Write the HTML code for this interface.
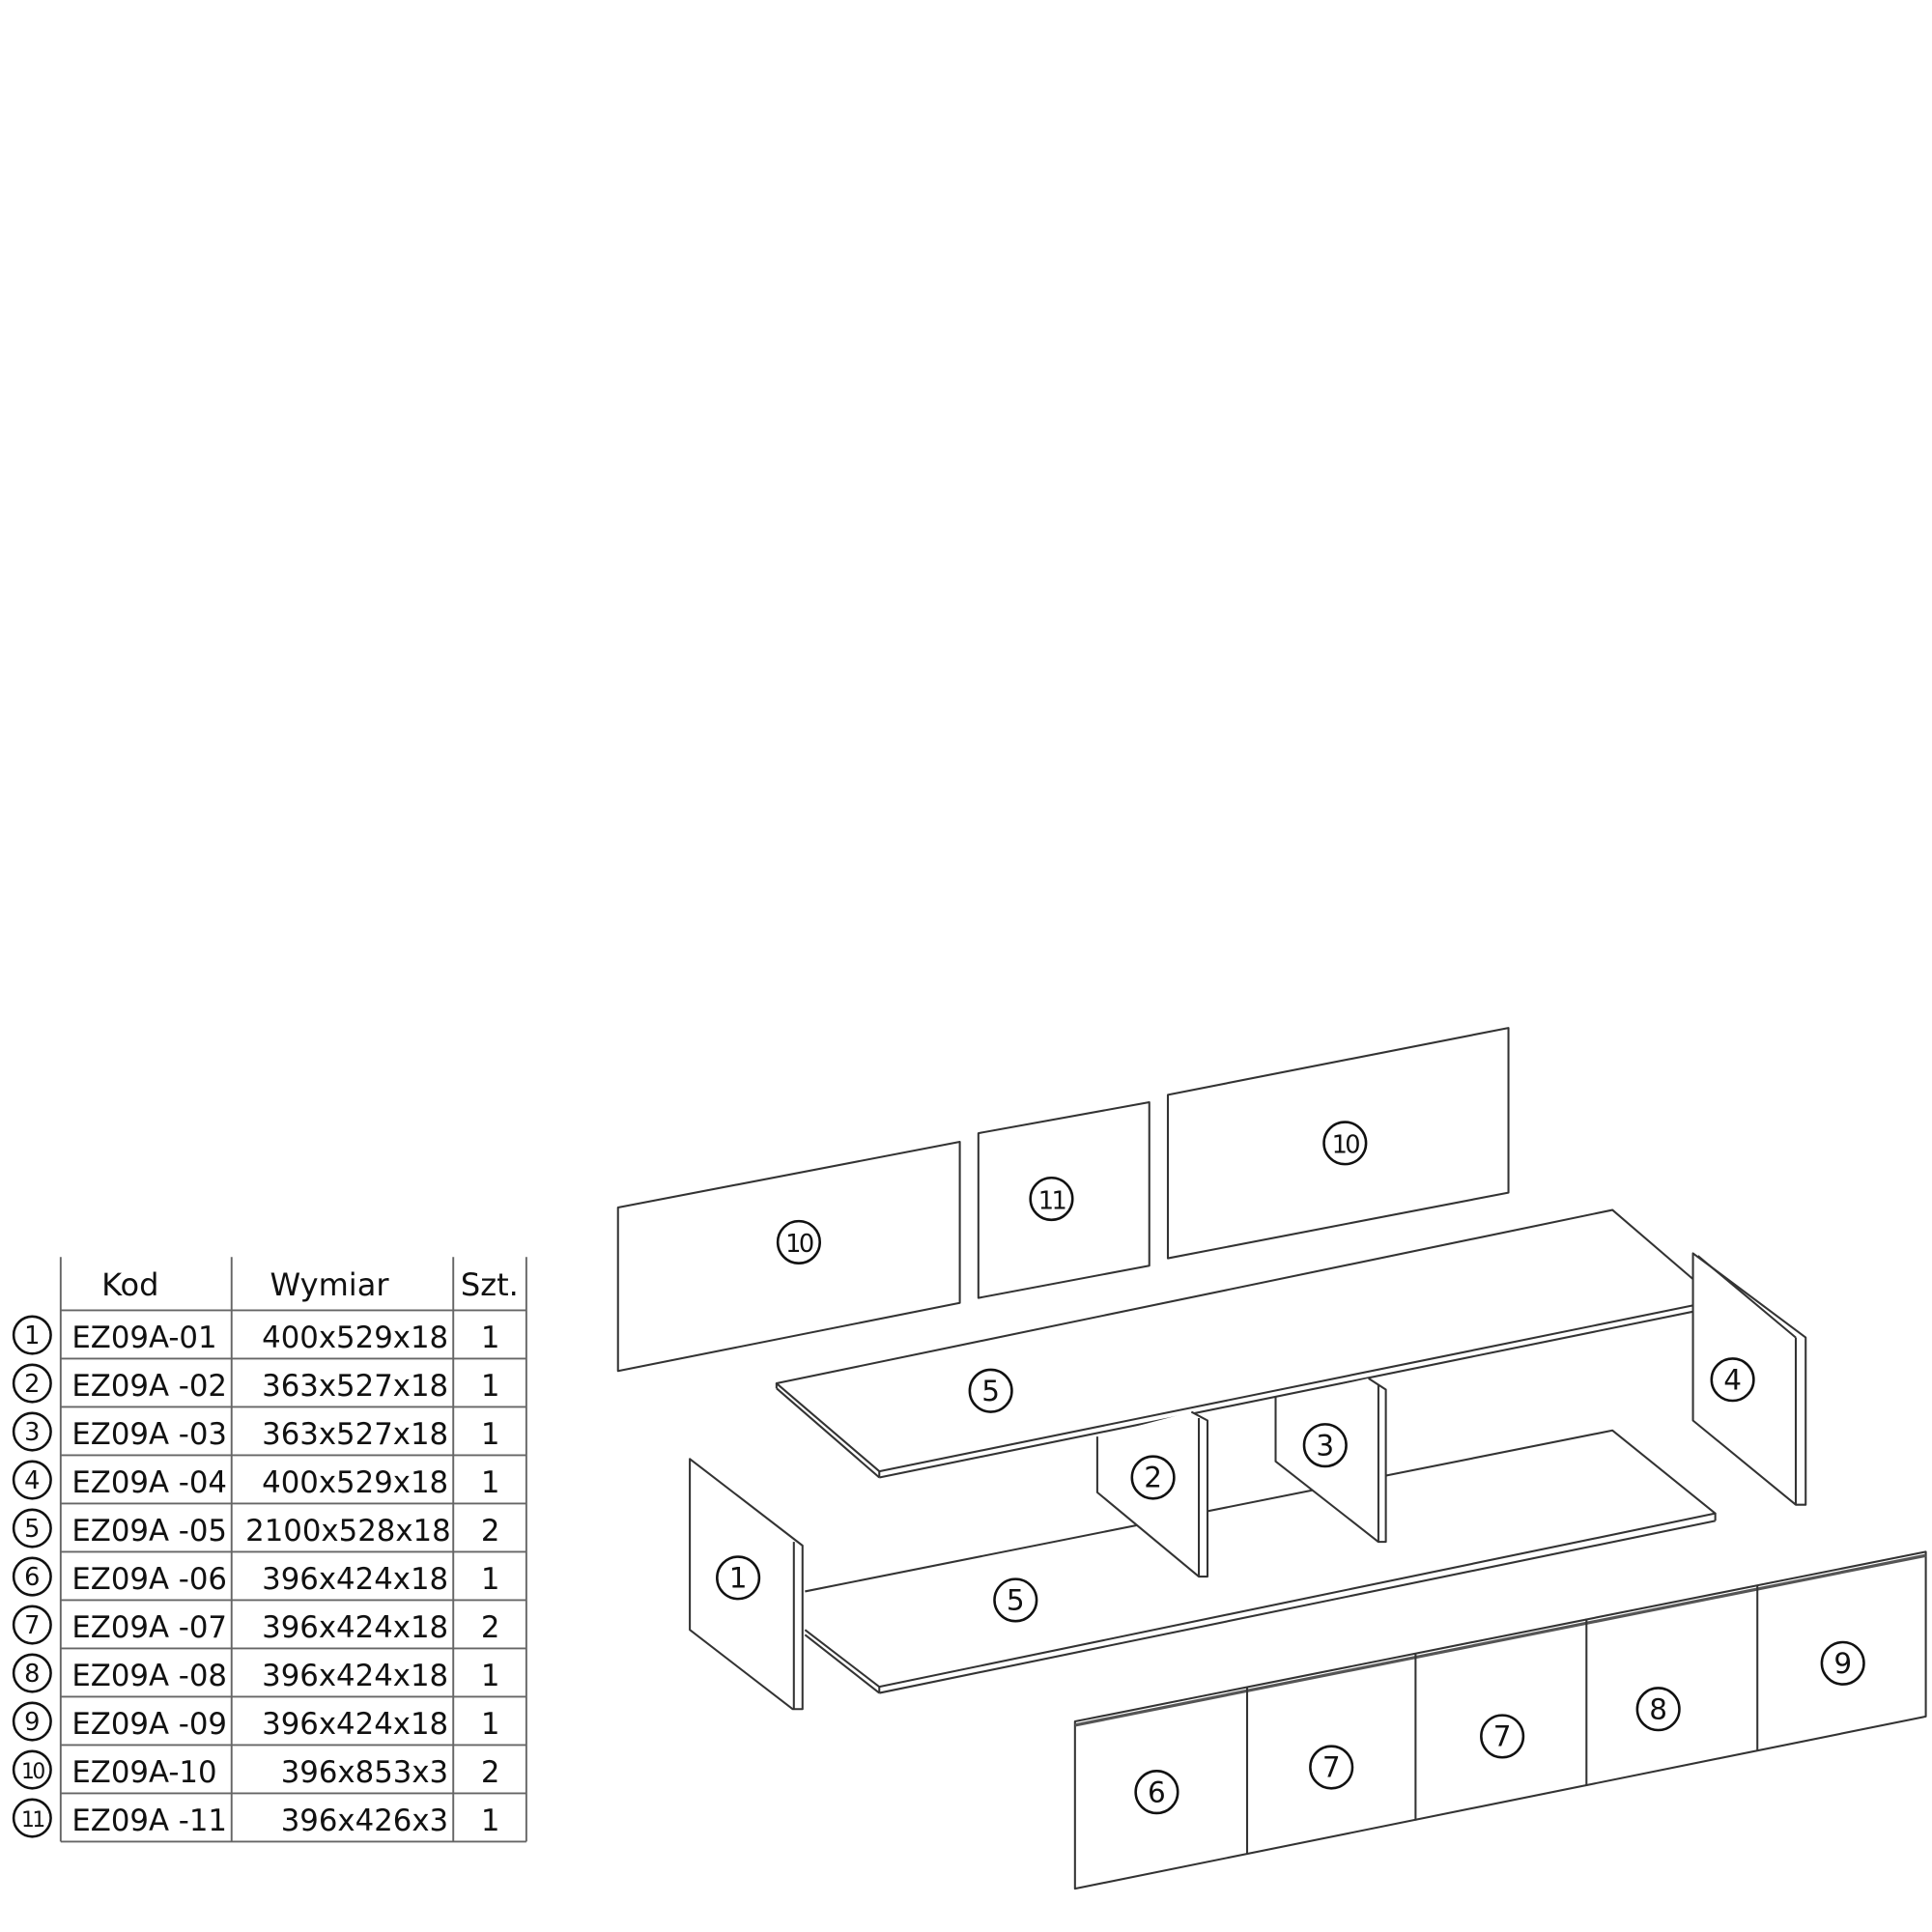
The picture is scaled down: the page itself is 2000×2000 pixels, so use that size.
<!DOCTYPE html>
<html><head><meta charset="utf-8"><style>
html,body{margin:0;padding:0;background:#fff;}
svg{display:block}
text{font-family:"DejaVu Sans","Liberation Sans",sans-serif;fill:#111}
</style></head><body>
<svg width="2000" height="2000" viewBox="0 0 1560 1560" xmlns="http://www.w3.org/2000/svg">
<g fill="none" stroke="#333" stroke-width="1.6" stroke-linejoin="round">
<!-- table -->
<g stroke="#666" stroke-width="1.5">
<line x1="49" y1="1015" x2="49" y2="1487"/><line x1="187" y1="1015" x2="187" y2="1487"/>
<line x1="366" y1="1015" x2="366" y2="1487"/><line x1="425" y1="1015" x2="425" y2="1487"/>
<line x1="49" y1="1058" x2="425" y2="1058"/><line x1="49" y1="1097" x2="425" y2="1097"/>
<line x1="49" y1="1136" x2="425" y2="1136"/><line x1="49" y1="1175" x2="425" y2="1175"/>
<line x1="49" y1="1214" x2="425" y2="1214"/><line x1="49" y1="1253" x2="425" y2="1253"/>
<line x1="49" y1="1292" x2="425" y2="1292"/><line x1="49" y1="1331" x2="425" y2="1331"/>
<line x1="49" y1="1370" x2="425" y2="1370"/><line x1="49" y1="1409" x2="425" y2="1409"/>
<line x1="49" y1="1448" x2="425" y2="1448"/><line x1="49" y1="1487" x2="425" y2="1487"/>
</g>
<!-- back panels -->
<polygon points="499,975 775,922 775,1052 499,1107"/>
<polygon points="790,915 928,890 928,1022 790,1048"/>
<polygon points="943,884 1218,830 1218,963 943,1016"/>
<!-- top shelf -->
<polygon points="627,1117 1302,977 1387,1050 710,1188" fill="#fff"/>
<line x1="710" y1="1193" x2="1387" y2="1055"/><line x1="627" y1="1117" x2="627" y2="1121"/>
<line x1="627" y1="1121" x2="710" y2="1193"/><line x1="710" y1="1188" x2="710" y2="1193"/><line x1="1387" y1="1050" x2="1387" y2="1055"/>
<!-- panel 4 -->
<polygon points="1367,1012 1458,1080 1458,1215 1450,1215 1367,1147 1367,1062" fill="#fff"/>
<line x1="1450" y1="1080" x2="1450" y2="1215"/><line x1="1371" y1="1014" x2="1450" y2="1080"/>
<!-- bottom shelf -->
<polyline points="650,1285 1302,1155 1385,1222 710,1362 650,1316"/>
<line x1="710" y1="1367" x2="1385" y2="1228"/><line x1="1385" y1="1222" x2="1385" y2="1228"/>
<line x1="710" y1="1362" x2="710" y2="1367"/><line x1="650" y1="1320" x2="710" y2="1367"/>
<!-- panel 2 -->
<polygon points="886,1160 886,1205 968,1273 975,1273 975,1147 962,1140 886,1160" fill="#fff" stroke="none"/>
<polyline points="886,1160 886,1205 968,1273 975,1273 975,1147 962,1140"/>
<line x1="968" y1="1145" x2="968" y2="1273"/>
<!-- panel 3 -->
<polygon points="1030,1130 1030,1180 1113,1245 1119,1245 1119,1122 1105,1113" fill="#fff" stroke="none"/>
<polyline points="1030,1128 1030,1180 1113,1245 1119,1245 1119,1122 1105,1113"/>
<line x1="1113" y1="1118" x2="1113" y2="1245"/>
<!-- panel 1 -->
<polygon points="557,1178 648,1248 648,1380 640,1380 557,1316" fill="#fff"/>
<line x1="641" y1="1245" x2="641" y2="1380"/>
<!-- doors -->
<polygon points="868,1390 1555,1253 1555,1386 868,1525"/>
<line x1="868" y1="1393" x2="1555" y2="1256" stroke-width="2.5" stroke="#555"/>
<line x1="1007" y1="1362" x2="1007" y2="1497"/><line x1="1143" y1="1335" x2="1143" y2="1470"/>
<line x1="1281" y1="1307" x2="1281" y2="1442"/><line x1="1419" y1="1280" x2="1419" y2="1414"/>
</g>
<!-- table text -->
<g font-size="25">
<text x="82" y="1046">Kod</text><text x="218" y="1046">Wymiar</text><text x="372" y="1046">Szt.</text>
</g>
<g font-size="24">
<text x="58" y="1088">EZ09A-01</text><text x="58" y="1127">EZ09A -02</text><text x="58" y="1166">EZ09A -03</text>
<text x="58" y="1205">EZ09A -04</text><text x="58" y="1244">EZ09A -05</text><text x="58" y="1283">EZ09A -06</text>
<text x="58" y="1322">EZ09A -07</text><text x="58" y="1361">EZ09A -08</text><text x="58" y="1400">EZ09A -09</text>
<text x="58" y="1439">EZ09A-10</text><text x="58" y="1478">EZ09A -11</text>
</g>
<g font-size="24" text-anchor="end">
<text x="362" y="1088">400x529x18</text><text x="362" y="1127">363x527x18</text><text x="362" y="1166">363x527x18</text>
<text x="362" y="1205">400x529x18</text><text x="364" y="1244">2100x528x18</text><text x="362" y="1283">396x424x18</text>
<text x="362" y="1322">396x424x18</text><text x="362" y="1361">396x424x18</text><text x="362" y="1400">396x424x18</text>
<text x="362" y="1439">396x853x3</text><text x="362" y="1478">396x426x3</text>
</g>
<g font-size="24" text-anchor="middle">
<text x="396" y="1088">1</text><text x="396" y="1127">1</text><text x="396" y="1166">1</text><text x="396" y="1205">1</text>
<text x="396" y="1244">2</text><text x="396" y="1283">1</text><text x="396" y="1322">2</text><text x="396" y="1361">1</text>
<text x="396" y="1400">1</text><text x="396" y="1439">2</text><text x="396" y="1478">1</text>
</g>
<!-- circled numbers -->
<g fill="none" stroke="#111" stroke-width="2">
<circle cx="26" cy="1078" r="15"/><circle cx="26" cy="1117" r="15"/><circle cx="26" cy="1156" r="15"/>
<circle cx="26" cy="1195" r="15"/><circle cx="26" cy="1234" r="15"/><circle cx="26" cy="1273" r="15"/>
<circle cx="26" cy="1312" r="15"/><circle cx="26" cy="1351" r="15"/><circle cx="26" cy="1390" r="15"/>
<circle cx="26" cy="1429" r="15"/><circle cx="26" cy="1468" r="15"/>
<circle cx="645" cy="1003" r="17"/><circle cx="849" cy="968" r="17"/><circle cx="1086" cy="923" r="17"/>
<circle cx="800" cy="1123" r="17"/><circle cx="1399" cy="1114" r="17"/><circle cx="931" cy="1193" r="17"/>
<circle cx="1070" cy="1167" r="17"/><circle cx="820" cy="1292" r="17"/><circle cx="596" cy="1274" r="17"/>
<circle cx="934" cy="1447" r="17"/><circle cx="1075" cy="1427" r="17"/><circle cx="1213" cy="1402" r="17"/>
<circle cx="1339" cy="1380" r="17"/><circle cx="1488" cy="1343" r="17"/>
</g>
<g font-size="20" text-anchor="middle">
<text x="26" y="1085">1</text><text x="26" y="1124">2</text><text x="26" y="1163">3</text><text x="26" y="1202">4</text>
<text x="26" y="1241">5</text><text x="26" y="1280">6</text><text x="26" y="1319">7</text><text x="26" y="1358">8</text>
<text x="26" y="1397">9</text><text x="26" y="1436" font-size="17" letter-spacing="-2">10</text><text x="26" y="1475" font-size="17" letter-spacing="-2">11</text>
</g>
<g font-size="23" text-anchor="middle">
<text x="645" y="1011" font-size="20" letter-spacing="-2">10</text><text x="849" y="976" font-size="20" letter-spacing="-2">11</text>
<text x="1086" y="931" font-size="20" letter-spacing="-2">10</text>
<text x="800" y="1131">5</text><text x="1399" y="1122">4</text><text x="931" y="1201">2</text>
<text x="1070" y="1175">3</text><text x="820" y="1300">5</text><text x="596" y="1282">1</text>
<text x="934" y="1455">6</text><text x="1075" y="1435">7</text><text x="1213" y="1410">7</text>
<text x="1339" y="1388">8</text><text x="1488" y="1351">9</text>
</g>
</svg>
</body></html>
